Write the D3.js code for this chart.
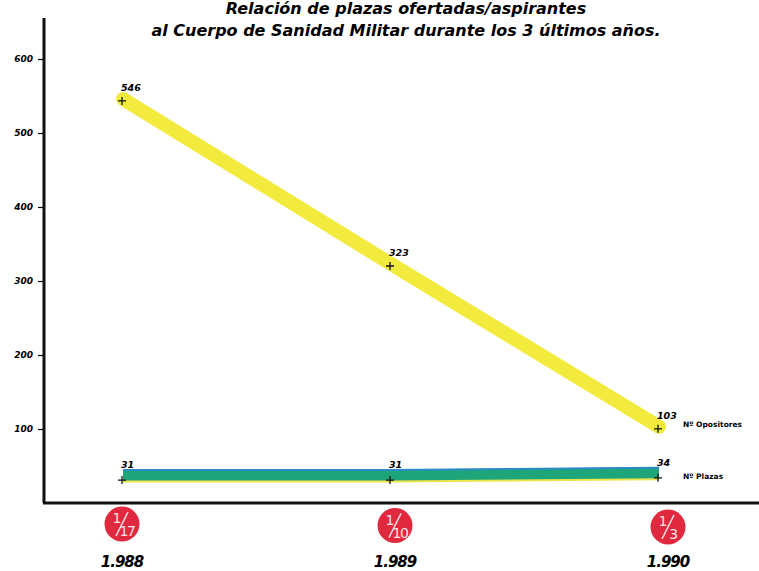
<!DOCTYPE html>
<html>
<head>
<meta charset="utf-8">
<script src="https://cdn.jsdelivr.net/npm/d3@7"></script>
<style>
  body { margin: 0; background: #fff; }
  text { font-family: "DejaVu Sans", sans-serif; }
</style>
</head>
<body>
<script>
const width = 759, height = 571;

// data
const years = ["1.988", "1.989", "1.990"];
const ratioNum = ["1", "1", "1"];
const ratioDen = ["17", "10", "3"];
const opositores = [546, 323, 103];
const plazas = [31, 31, 34];
const yTicks = [100, 200, 300, 400, 500, 600];
const titleLines = [
  "Relación de plazas ofertadas/aspirantes",
  "al Cuerpo de Sanidad Militar durante los 3 últimos años."
];
const seriesNames = ["Nº Opositores", "Nº Plazas"];

const x = d3.scalePoint().domain(years).range([123, 659]);
const xb = d3.scalePoint().domain(years).range([122, 668]); // badges under axis
const y = d3.scaleLinear().domain([0, 600]).range([503, 59]);

const svg = d3.select("body").append("svg")
    .attr("width", width)
    .attr("height", height);

svg.append("rect").attr("width", width).attr("height", height).attr("fill", "#fff");

// title
svg.append("g")
    .attr("font-weight", "bold")
    .attr("font-style", "italic")
    .attr("font-size", 16)
    .attr("text-anchor", "middle")
  .selectAll("text")
  .data(titleLines)
  .join("text")
    .attr("x", 406)
    .attr("y", (d, i) => 14 + i * 22)
    .text(d => d);

// axes
const yAxis = g => g
    .attr("transform", "translate(44,0)")
    .call(d3.axisLeft(y).tickValues(yTicks).tickSize(6).tickPadding(5))
    .call(g => g.select(".domain").remove())
    .call(g => g.selectAll("text")
        .attr("font-family", "DejaVu Sans")
        .attr("font-weight", "bold")
        .attr("font-style", "italic")
        .attr("font-size", 9))
    .call(g => g.selectAll("line").attr("stroke-width", 1.2));

svg.append("g").call(yAxis);

svg.append("line")
    .attr("x1", 44).attr("x2", 44)
    .attr("y1", 18).attr("y2", y(0))
    .attr("stroke", "#111").attr("stroke-width", 3);
svg.append("line")
    .attr("x1", 43).attr("x2", width)
    .attr("y1", y(0)).attr("y2", y(0))
    .attr("stroke", "#111").attr("stroke-width", 3);

const line = d3.line().x((d, i) => x(years[i])).y(d => y(d));

// opositores band
svg.append("path")
    .datum(opositores)
    .attr("fill", "none")
    .attr("stroke", "#f3ea3e")
    .attr("stroke-width", 14)
    .attr("stroke-linecap", "round")
    .attr("d", line);

// plazas band (drawn a little above the crosses, as in the original)
const pb = svg.append("g").attr("transform", "translate(0,-5)");
pb.append("path")
    .datum(plazas)
    .attr("fill", "none")
    .attr("stroke", "#ece44a")
    .attr("stroke-width", 13)
    .attr("transform", "translate(0,1)")
    .attr("d", line);
pb.append("path")
    .datum(plazas)
    .attr("fill", "none")
    .attr("stroke", "#1fa57a")
    .attr("stroke-width", 11)
    .attr("d", line);
pb.append("path")
    .datum(plazas)
    .attr("fill", "none")
    .attr("stroke", "#2a8cc4")
    .attr("stroke-width", 2)
    .attr("transform", "translate(0,-5)")
    .attr("d", line);

// crosses and value labels
[opositores, plazas].forEach((series, k) => {
  const g = svg.append("g");
  g.selectAll("path")
    .data(series)
    .join("path")
      .attr("d", (d, i) => {
        const cx = x(years[i]) - 1, cy = y(d) + (k ? 0 : 2);
        return `M${cx - 4},${cy}H${cx + 4}M${cx},${cy - 4}V${cy + 4}`;
      })
      .attr("stroke", "#111")
      .attr("stroke-width", 1.3);
  g.selectAll("text")
    .data(series)
    .join("text")
      .attr("x", (d, i) => x(years[i]) - 2)
      .attr("y", d => y(d) - (k ? 12 : 8))
      .attr("font-size", 9.5)
      .attr("font-weight", "bold")
      .attr("font-style", "italic")
      .text(d => d);
});

// series labels
svg.append("g")
    .attr("font-size", 7.5)
    .attr("font-weight", "bold")
  .selectAll("text")
  .data(seriesNames)
  .join("text")
    .attr("x", 683)
    .attr("y", (d, i) => y([opositores, plazas][i][2]) + (i ? 1 : 0))
    .text(d => d);

// ratio badges
const badge = svg.append("g")
  .selectAll("g")
  .data(years)
  .join("g")
    .attr("transform", (d, i) => `translate(${xb(d)},${524 + i * 1.5})`);

badge.append("circle")
    .attr("r", 17.5)
    .attr("fill", "#e0283e");
badge.append("text")
    .attr("x", -5).attr("y", -1)
    .attr("text-anchor", "middle")
    .attr("fill", "#fbe4e6")
    .attr("font-size", 14)
    .text((d, i) => ratioNum[i]);
badge.append("line")
    .attr("x1", 6).attr("y1", -12)
    .attr("x2", -6).attr("y2", 12)
    .attr("stroke", "#fbe4e6")
    .attr("stroke-width", 1.6);
badge.append("text")
    .attr("x", 5).attr("y", 12)
    .attr("text-anchor", "middle")
    .attr("fill", "#fbe4e6")
    .attr("font-size", 14)
    .attr("letter-spacing", -1.5)
    .text((d, i) => ratioDen[i]);

// year labels
svg.append("g")
    .attr("font-size", 15)
    .attr("font-weight", "bold")
    .attr("font-style", "italic")
    .attr("text-anchor", "middle")
    .attr("letter-spacing", -1)
  .selectAll("text")
  .data(years)
  .join("text")
    .attr("x", d => xb(d))
    .attr("y", 567)
    .text(d => d);
</script>
</body>
</html>
